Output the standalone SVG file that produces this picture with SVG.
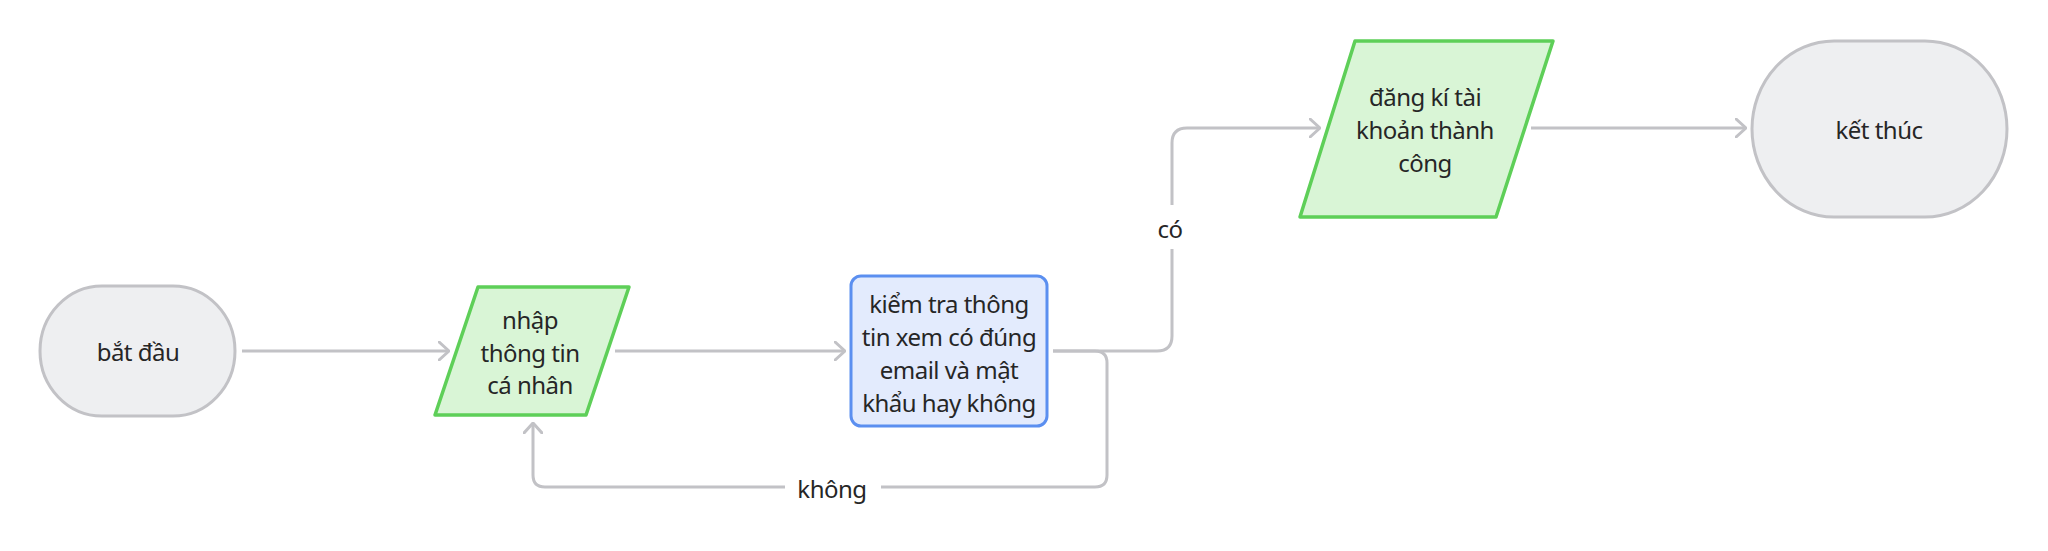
<svg xmlns="http://www.w3.org/2000/svg" width="2048" height="551" viewBox="0 0 2048 551">
<style>
.t{font-family:"Noto Sans","Liberation Sans",sans-serif;font-size:24px;letter-spacing:-0.5px;fill:#262626;text-anchor:middle}
.term{fill:#eeeff1;stroke:#c2c2c6;stroke-width:3}
.io{fill:#d9f5d6;stroke:#5ecf58;stroke-width:3.5;stroke-linejoin:round}
.proc{fill:#e3ebfd;stroke:#5b8ff0;stroke-width:3}
.c{fill:none;stroke:#c2c2c6;stroke-width:3}
</style>
<defs>
<marker id="ah" viewBox="0 0 12 20" refX="11" refY="10" markerWidth="12" markerHeight="20" markerUnits="userSpaceOnUse" orient="auto">
<path d="M1,1 L11,10 L1,19" fill="none" stroke="#c2c2c6" stroke-width="3" stroke-linecap="round" stroke-linejoin="round"/>
</marker>
</defs>
<rect width="2048" height="551" fill="#ffffff"/>
<g id="connectors">
<path class="c" d="M242,351 H449" marker-end="url(#ah)"/>
<path class="c" d="M615,351 H845" marker-end="url(#ah)"/>
<path class="c" d="M1053,351 H1157 Q1172,351 1172,336 V143 Q1172,128 1187,128 H1320" marker-end="url(#ah)"/>
<path class="c" d="M1053,351 H1095 Q1107,351 1107,363 V475 Q1107,487 1095,487 H545 Q533,487 533,475 V423" marker-end="url(#ah)"/>
<path class="c" d="M1531,128 H1746" marker-end="url(#ah)"/>
<rect x="1150" y="205" width="44" height="44" fill="#ffffff"/>
<text class="t" x="1170" y="238">có</text>
<rect x="785" y="470" width="96" height="36" fill="#ffffff"/>
<text class="t" x="832" y="498">không</text>
</g>
<g id="start">
<rect class="term" x="40" y="286" width="195" height="130" rx="62" ry="65"/>
<text class="t" x="138" y="361">bắt đầu</text>
</g>
<g id="input">
<path class="io" d="M478,287 L629,287 L586,415 L435,415 Z"/>
<text class="t" x="530" y="329">nhập</text>
<text class="t" x="530" y="362">thông tin</text>
<text class="t" x="530" y="394">cá nhân</text>
</g>
<g id="check">
<rect class="proc" x="851" y="276" width="196" height="150" rx="10"/>
<text class="t" x="949" y="313">kiểm tra thông</text>
<text class="t" x="949" y="346">tin xem có đúng</text>
<text class="t" x="949" y="379">email và mật</text>
<text class="t" x="949" y="412">khẩu hay không</text>
</g>
<g id="success">
<path class="io" d="M1355,41 L1553,41 L1496,217 L1300,217 Z"/>
<text class="t" x="1425" y="106">đăng kí tài</text>
<text class="t" x="1425" y="139">khoản thành</text>
<text class="t" x="1425" y="172">công</text>
</g>
<g id="end">
<rect class="term" x="1752" y="41" width="255" height="176" rx="82" ry="88"/>
<text class="t" x="1879" y="139">kết thúc</text>
</g>
</svg>
